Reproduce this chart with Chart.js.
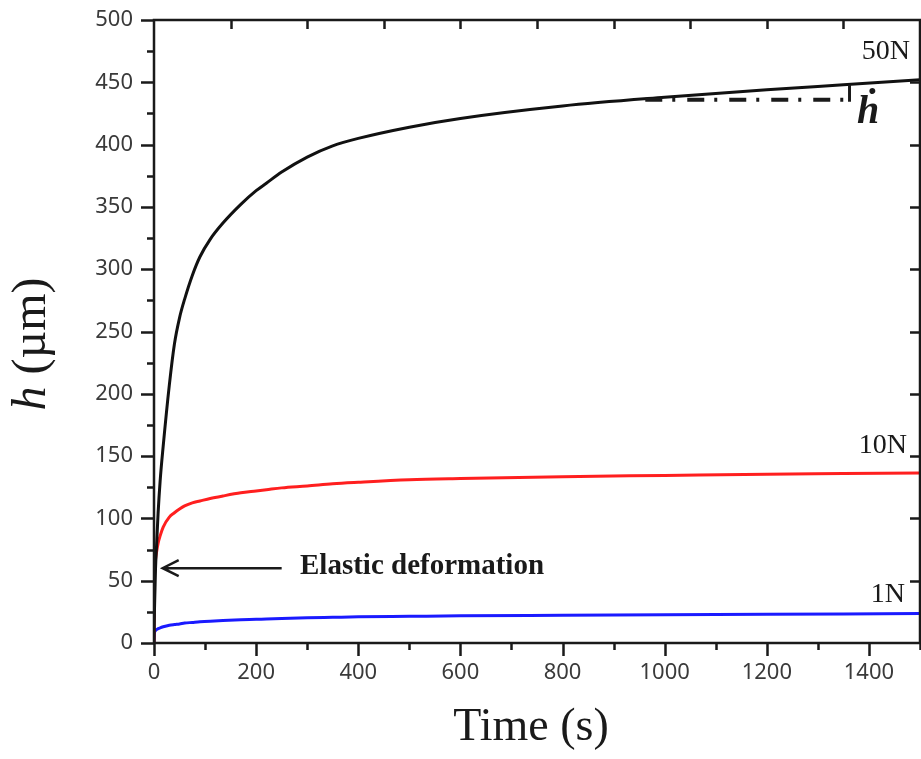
<!DOCTYPE html>
<html>
<head>
<meta charset="utf-8">
<script src="https://cdn.jsdelivr.net/npm/chart.js@4"></script>
<style>
  html, body { margin: 0; padding: 0; background: #fff; }
  canvas { display: block; }
</style>
</head>
<body>
<canvas id="myChart" width="921" height="759"></canvas>
<script>
// creep depth h (um) vs time (s) for three indentation loads
var times = [0, 0.5, 1, 2, 3, 5, 8, 12, 18, 30, 40, 50, 60, 75, 90, 110, 135, 170, 200, 220, 250, 300, 350, 400, 500, 600, 800, 1000, 1200, 1350, 1500];
var h50N = [0, 15, 28, 44, 60, 78, 104, 130, 158, 207, 240, 261, 276, 295, 310, 324, 337, 352, 363, 369, 378, 390, 399, 405, 414, 421, 431, 438, 444, 448, 452];
var h10N = [0, 35, 55, 62, 67, 73, 80, 86, 93, 101, 104.5, 107.5, 110, 112.5, 114, 116, 118, 120.5, 122, 123, 124.5, 126, 127.8, 129, 131, 132, 133.5, 134.5, 135.5, 136, 136.5];
var h1N = [0, 6, 8.5, 9.5, 10, 10.8, 11.5, 12.2, 13, 14.2, 14.8, 15.3, 16, 16.5, 17, 17.5, 18, 18.6, 19, 19.3, 19.7, 20.2, 20.6, 21, 21.4, 21.8, 22.2, 22.6, 23, 23.3, 23.6];

var xTicks = [0, 200, 400, 600, 800, 1000, 1200, 1400];
var yTicks = [0, 50, 100, 150, 200, 250, 300, 350, 400, 450, 500];

function toPoints(xs, ys) {
    let pts = [];
    for (let i = 0; i < xs.length; i++) {
        pts.push({ x: xs[i], y: ys[i] });
    }
    return pts;
}

function series(label, values, color) {
    return {
        label: label,
        data: toPoints(times, values),
        borderColor: color,
        borderWidth: 3,
        pointRadius: 0,
        showLine: true,
        fill: false,
        cubicInterpolationMode: 'monotone'
    };
}

// frame, tick marks, titles and the annotations
var decorations = {
    id: 'decorations',
    afterDraw: function (chart) {
        const ctx = chart.ctx;
        const a = chart.chartArea;
        const xs = chart.scales.x;
        const ys = chart.scales.y;
        const ink = '#1a1a1a';

        ctx.save();
        ctx.strokeStyle = ink;
        ctx.lineWidth = 2.5;
        ctx.strokeRect(a.left, a.top, a.right - a.left, a.bottom - a.top);

        ctx.beginPath();
        // left: outward, major every 50 and minor every 25
        for (let v = 0; v <= 500; v += 25) {
            const y = Math.round(ys.getPixelForValue(v)) + 0.5;
            const len = v % 50 == 0 ? 13 : 7;
            ctx.moveTo(a.left, y);
            ctx.lineTo(a.left - len, y);
        }
        // bottom: outward, major every 200 and minor every 100
        for (let v = 0; v <= 1500; v += 100) {
            const x = Math.round(xs.getPixelForValue(v)) + 0.5;
            const len = v % 200 == 0 ? 13 : 7;
            ctx.moveTo(x, a.bottom);
            ctx.lineTo(x, a.bottom + len);
        }
        // top: inward every 150
        for (let v = 150; v < 1500; v += 150) {
            const x = Math.round(xs.getPixelForValue(v)) + 0.5;
            ctx.moveTo(x, a.top);
            ctx.lineTo(x, a.top + 9);
        }
        // right: inward every 50
        for (let v = 50; v < 500; v += 50) {
            const y = Math.round(ys.getPixelForValue(v)) + 0.5;
            ctx.moveTo(a.right, y);
            ctx.lineTo(a.right - 10, y);
        }
        ctx.stroke();

        // axis titles
        ctx.fillStyle = ink;
        ctx.textBaseline = 'alphabetic';
        ctx.textAlign = 'center';
        ctx.font = '46px "Liberation Serif"';
        ctx.fillText('Time (s)', 531, 740);

        ctx.save();
        ctx.translate(45, 344);
        ctx.rotate(-Math.PI / 2);
        ctx.textAlign = 'left';
        ctx.font = 'italic 48px "Liberation Serif"';
        const hw = ctx.measureText('h').width;
        ctx.font = '48px "Liberation Serif"';
        const rw = ctx.measureText(' (\u00b5m)').width;
        const start = -(hw + rw) / 2;
        ctx.font = 'italic 48px "Liberation Serif"';
        ctx.fillText('h', start, 0);
        ctx.font = '48px "Liberation Serif"';
        ctx.fillText(' (\u00b5m)', start + hw, 0);
        ctx.restore();

        // load labels
        ctx.textAlign = 'right';
        ctx.font = '28px "Liberation Serif"';
        ctx.fillText('50N', 910, 59);
        ctx.fillText('10N', 907, 453);
        ctx.fillText('1N', 905, 602);

        // elastic deformation arrow
        const tipX = xs.getPixelForValue(17);
        const tipY = ys.getPixelForValue(60);
        const tailX = xs.getPixelForValue(250);
        ctx.lineWidth = 2.5;
        ctx.beginPath();
        ctx.moveTo(tailX, tipY);
        ctx.lineTo(tipX + 1, tipY);
        ctx.moveTo(tipX + 16, tipY - 8);
        ctx.lineTo(tipX, tipY);
        ctx.lineTo(tipX + 16, tipY + 8);
        ctx.stroke();

        ctx.textAlign = 'left';
        ctx.font = 'bold 29px "Liberation Serif"';
        ctx.fillText('Elastic deformation', 300, 574);

        // creep rate marker: dash-dot run and step
        const y436 = ys.getPixelForValue(436);
        ctx.lineWidth = 4;
        ctx.setLineDash([17, 10, 3, 12]);
        ctx.beginPath();
        ctx.moveTo(xs.getPixelForValue(962), y436);
        ctx.lineTo(xs.getPixelForValue(1353), y436);
        ctx.stroke();
        ctx.setLineDash([]);
        ctx.lineWidth = 3;
        ctx.beginPath();
        ctx.moveTo(xs.getPixelForValue(1362), y436 + 2);
        ctx.lineTo(xs.getPixelForValue(1362), ys.getPixelForValue(448));
        ctx.stroke();

        ctx.font = 'bold italic 40px "Liberation Serif", "DejaVu Serif"';
        ctx.fillText('\u1e23', 857, 123);
        ctx.restore();
    }
};

var ctx = document.getElementById('myChart').getContext('2d');
var chart = new Chart(ctx, {
    type: 'scatter',
    data: {
        datasets: [
            series('50N', h50N, '#111111'),
            series('10N', h10N, '#ff1f1f'),
            series('1N', h1N, '#1a1aff')
        ]
    },
    options: {
        responsive: false,
        animation: false,
        devicePixelRatio: 1,
        layout: { padding: { top: 20, right: 1, left: 0, bottom: 0 } },
        plugins: {
            legend: { display: false },
            tooltip: { enabled: false }
        },
        scales: {
            x: {
                type: 'linear',
                min: 0,
                max: 1500,
                grid: { display: false },
                border: { display: false },
                afterBuildTicks: function (scale) {
                    scale.ticks = xTicks.map(function (v) { return { value: v }; });
                },
                afterFit: function (scale) {
                    scale.height = 116;
                    scale.paddingLeft = 0;
                    scale.paddingRight = 0;
                },
                ticks: {
                    autoSkip: false,
                    maxRotation: 0,
                    padding: 9,
                    color: '#3a3a3a',
                    font: { family: 'Noto Sans', size: 22 },
                    callback: function (v) { return String(v); }
                }
            },
            y: {
                type: 'linear',
                min: 0,
                max: 500,
                grid: { display: false },
                border: { display: false },
                afterBuildTicks: function (scale) {
                    scale.ticks = yTicks.map(function (v) { return { value: v }; });
                },
                afterFit: function (scale) {
                    scale.width = 154;
                    scale.paddingTop = 0;
                    scale.paddingBottom = 0;
                },
                ticks: {
                    autoSkip: false,
                    padding: 13,
                    color: '#3a3a3a',
                    font: { family: 'Noto Sans', size: 22 },
                    callback: function (v) { return String(v); }
                }
            }
        }
    },
    plugins: [decorations]
});
</script>
</body>
</html>
